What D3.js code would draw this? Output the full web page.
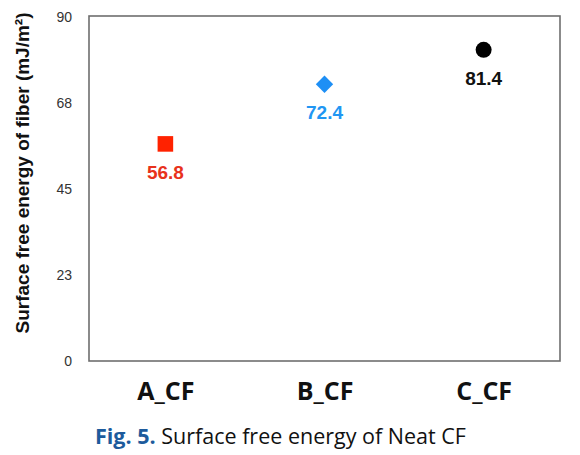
<!DOCTYPE html>
<html><head><meta charset="utf-8">
<script src="https://cdn.jsdelivr.net/npm/d3@7"></script>
<style>html,body{margin:0;padding:0;background:#fff;}</style>
</head><body>
<svg id="chart" width="580" height="455"></svg>
<script>
const categories = ["A_CF", "B_CF", "C_CF"];
const values = [56.8, 72.4, 81.4];
const valueLabels = ["56.8", "72.4", "81.4"];
const markerShapes = ["square", "diamond", "circle"];
const markerColors = ["#ff2200", "#1e8ff5", "#000000"];
const labelColors = ["#e8321c", "#2196f3", "#111111"];
const yTickValues = [0, 22.5, 45, 67.5, 90];
const yTickLabels = ["0", "23", "45", "68", "90"];

const svg = d3.select("#chart");
const L = 89, R = 560, T = 16, B = 361;

const x = d3.scalePoint().domain(categories).range([L, R]).padding(0.48);
const y = d3.scaleLinear().domain([0, 90]).range([B, T + 1]);

// plot box
svg.append("rect").attr("x", L).attr("y", T).attr("width", R - L).attr("height", B - T)
  .attr("fill", "none").attr("stroke", "#6e6e6e").attr("stroke-width", 1.6);

// y axis
const yAxis = d3.axisLeft(y).tickValues(yTickValues)
  .tickFormat((d, i) => yTickLabels[i]).tickSize(0).tickPadding(0);
const gy = svg.append("g").attr("transform", `translate(72,0)`).call(yAxis);
gy.select(".domain").remove();
gy.selectAll("text").attr("font-family", "Liberation Sans, Arial, sans-serif")
  .attr("font-size", 14).attr("fill", "#333").attr("dy", "0.35em");

// x axis labels
const xAxis = d3.axisBottom(x).tickSize(0).tickPadding(0);
const gx = svg.append("g").attr("transform", `translate(0,400)`).call(xAxis);
gx.select(".domain").remove();
gx.selectAll("text").attr("font-family", "Open Sans, sans-serif").attr("font-weight", 700)
  .attr("font-size", 25).attr("fill", "#111").attr("dy", 0).attr("y", 0);

// y axis title
svg.append("text").attr("transform", "translate(29,173) rotate(-90)")
  .attr("text-anchor", "middle").attr("font-family", "Liberation Sans, Arial, sans-serif")
  .attr("font-weight", 700).attr("font-size", 19).attr("fill", "#111")
  .text("Surface free energy of fiber (mJ/m²)");

// markers
const shapeMap = {
  square: d3.symbol().type(d3.symbolSquare).size(243),
  diamond: d3.symbol().type(d3.symbolSquare).size(150),
  circle: d3.symbol().type(d3.symbolCircle).size(201)
};
categories.forEach((c, i) => {
  const cx = x(c), cy = y(values[i]);
  svg.append("path").attr("d", shapeMap[markerShapes[i]]())
    .attr("transform", `translate(${cx},${cy})` + (markerShapes[i] === "diamond" ? " rotate(45)" : ""))
    .attr("fill", markerColors[i]);
  svg.append("text").attr("x", cx).attr("y", cy + 35).attr("text-anchor", "middle")
    .attr("font-family", "Liberation Sans, Arial, sans-serif").attr("font-weight", 700)
    .attr("font-size", 19).attr("fill", labelColors[i]).text(valueLabels[i]);
});

// caption
const cap = svg.append("text").attr("x", 95).attr("y", 444)
  .attr("font-family", "Open Sans, sans-serif").attr("font-size", 21.5).attr("fill", "#111");
cap.append("tspan").attr("font-weight", 700).attr("fill", "#1d5b9c").text("Fig. 5.");
cap.append("tspan").text(" Surface free energy of Neat CF");
</script>
</body></html>
